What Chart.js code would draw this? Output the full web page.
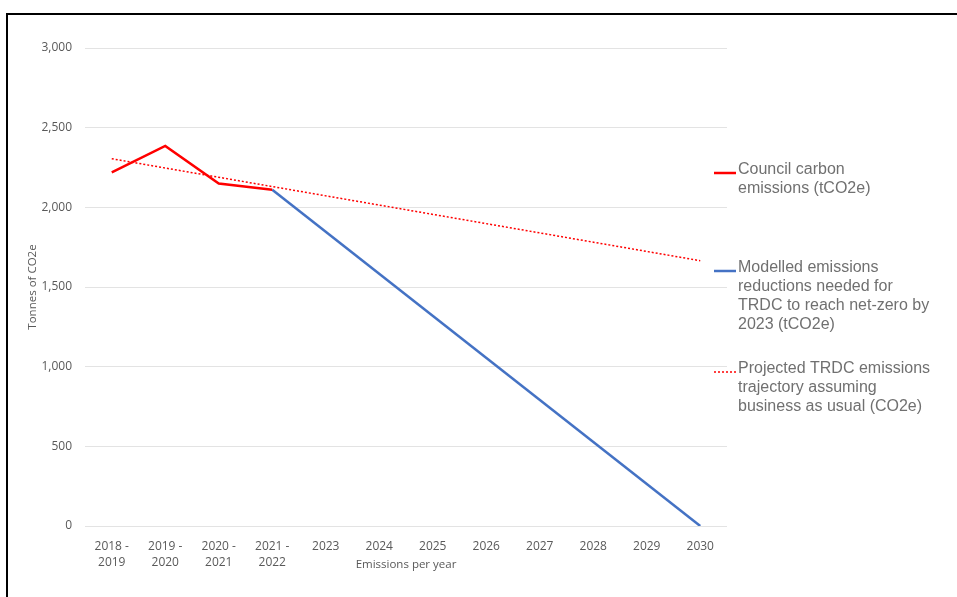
<!DOCTYPE html>
<html>
<head>
<meta charset="utf-8">
<script src="https://cdn.jsdelivr.net/npm/chart.js@4"></script>
<style>
  html, body { margin: 0; padding: 0; background: #fff; }
  #wrap { position: relative; width: 957px; height: 597px; overflow: hidden; }
  #frame { position: absolute; left: 6px; top: 13px; right: -10px; bottom: -10px;
           border-top: 2px solid #000; border-left: 2px solid #000; }
  canvas { position: absolute; left: 0; top: 0; }
</style>
</head>
<body>
<div id="wrap">
  <canvas id="co2Chart" width="957" height="597"></canvas>
  <div id="frame"></div>
</div>
<script>
const years = [
  ['2018 -', '2019'], ['2019 -', '2020'], ['2020 -', '2021'], ['2021 -', '2022'],
  '2023', '2024', '2025', '2026', '2027', '2028', '2029', '2030'
];

// actual council emissions, tCO2e
const councilEmissions = [2220, 2385, 2150, 2110, null, null, null, null, null, null, null, null];
// path to net-zero: from the last measured year down to zero
const netZeroPath = [null, null, null, 2110, null, null, null, null, null, null, null, 0];
// business-as-usual projection (straight trend)
const businessAsUsual = [2305, null, null, null, null, null, null, null, null, null, null, 1665];

const legendLabels = [
  ['Council carbon', 'emissions (tCO2e)'],
  ['Modelled emissions', 'reductions needed for', 'TRDC to reach net-zero by', '2023 (tCO2e)'],
  ['Projected TRDC emissions', 'trajectory assuming', 'business as usual (CO2e)']
];
const legendOffsets = [122, 220, 321];

const axisFont = "'Open Sans', sans-serif";
const axisColor = '#595959';

// legend drawn beside the plot with wrapped labels
const sideLegend = {
  id: 'sideLegend',
  afterDraw(chart) {
    const ctx = chart.ctx;
    const area = chart.chartArea;
    const x0 = area.right - 13;
    ctx.save();
    chart.data.datasets.forEach((ds, i) => {
      const top = area.top + legendOffsets[i];
      ctx.beginPath();
      ctx.strokeStyle = ds.borderColor;
      ctx.lineWidth = ds.borderWidth;
      ctx.setLineDash(ds.borderDash || []);
      ctx.moveTo(x0, top + 3);
      ctx.lineTo(x0 + 22, top + 3);
      ctx.stroke();
      ctx.setLineDash([]);
      ctx.fillStyle = '#707070';
      ctx.font = "16px 'Liberation Sans', Arial, sans-serif";
      ctx.textBaseline = 'middle';
      ctx.textAlign = 'left';
      legendLabels[i].forEach((line, j) => {
        ctx.fillText(line, x0 + 24, top + j * 19);
      });
    });
    ctx.restore();
  }
};

new Chart(document.getElementById('co2Chart'), {
  type: 'line',
  data: {
    labels: years,
    datasets: [
      {
        data: councilEmissions,
        borderColor: '#ff0000',
        borderWidth: 2.5,
        pointRadius: 0,
        tension: 0,
        order: 0
      },
      {
        data: netZeroPath,
        borderColor: '#4472c4',
        borderWidth: 2.5,
        pointRadius: 0,
        spanGaps: true,
        order: 1
      },
      {
        data: businessAsUsual,
        borderColor: '#ff0000',
        borderWidth: 1.5,
        borderDash: [2, 2],
        pointRadius: 0,
        spanGaps: true,
        order: 2
      }
    ]
  },
  options: {
    responsive: false,
    animation: false,
    layout: { padding: { top: 48, right: 230, left: 0, bottom: 0 } },
    plugins: {
      legend: { display: false },
      tooltip: { enabled: false }
    },
    scales: {
      x: {
        offset: true,
        grid: { display: false },
        border: { display: false },
        ticks: {
          color: axisColor,
          padding: 5,
          maxRotation: 0,
          autoSkip: false,
          font: { family: axisFont, size: 12, lineHeight: 1.33 }
        },
        title: {
          display: true,
          text: 'Emissions per year',
          color: axisColor,
          padding: { top: 0, bottom: 25 },
          font: { family: axisFont, size: 11.5 }
        },
        afterFit(scale) { scale.height = 71; }
      },
      y: {
        min: 0,
        max: 3000,
        grid: { color: '#e3e3e3', lineWidth: 1, drawTicks: false },
        border: { display: false },
        ticks: {
          stepSize: 500,
          color: axisColor,
          padding: 13,
          font: { family: axisFont, size: 12 },
          callback: v => v.toLocaleString('en-US')
        },
        title: {
          display: true,
          text: 'Tonnes of CO2e',
          color: axisColor,
          padding: { top: 26, bottom: 0 },
          font: { family: axisFont, size: 11.5 }
        },
        afterFit(scale) { scale.width = 85; }
      }
    }
  },
  plugins: [sideLegend]
});
</script>
</body>
</html>
